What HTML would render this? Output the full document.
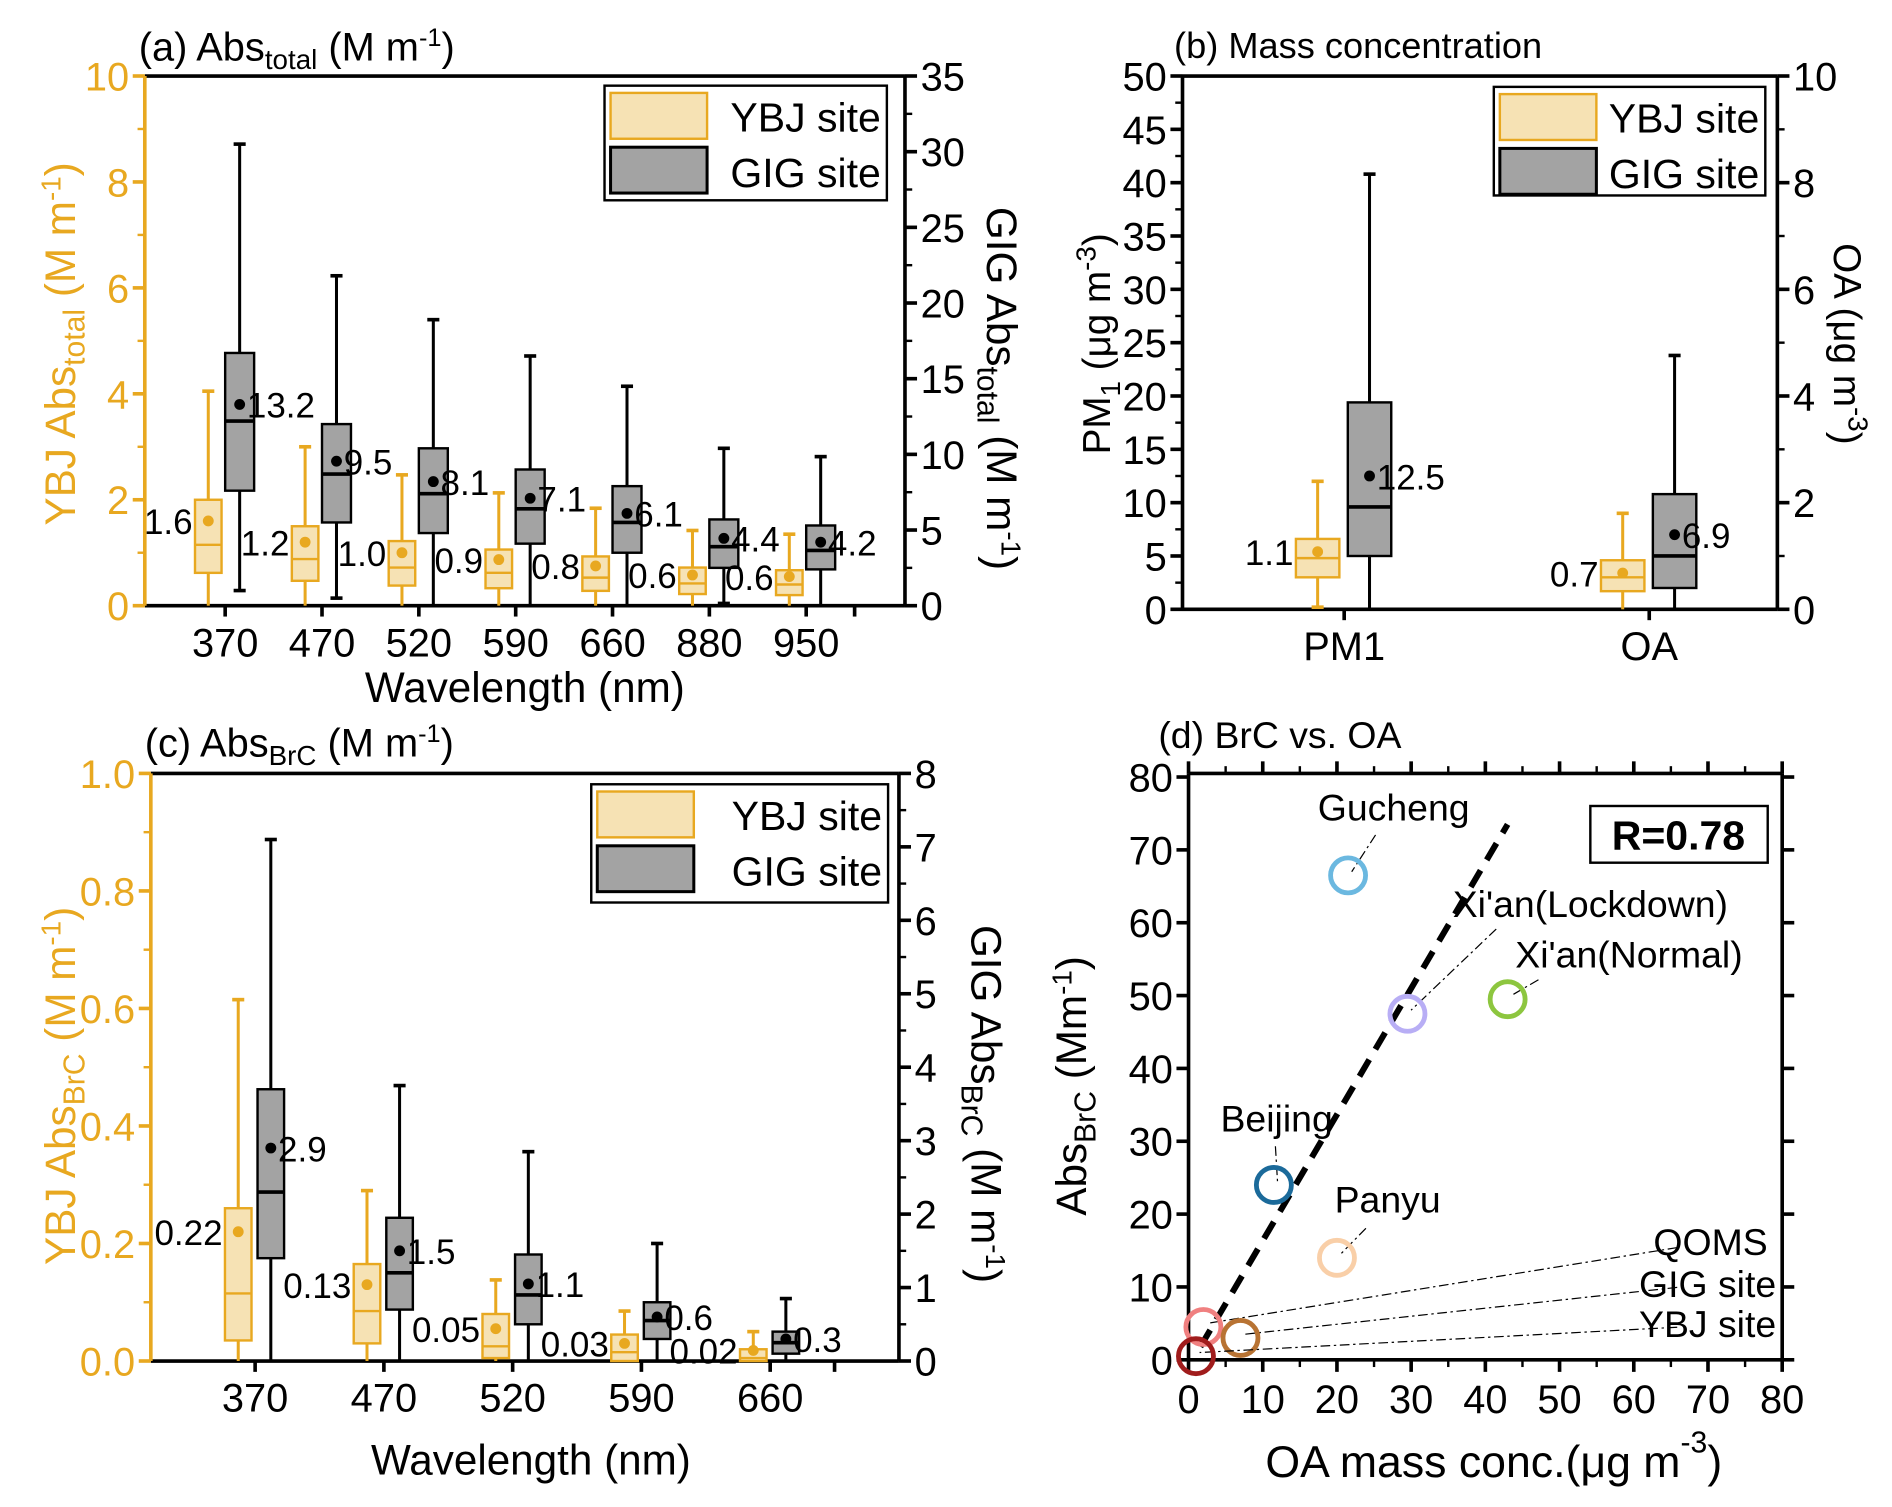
<!DOCTYPE html>
<html><head><meta charset="utf-8"><style>
body{margin:0;background:#fff}
svg{display:block;font-family:"Liberation Sans",Arial,sans-serif}
</style></head><body>
<svg id="fig" width="1892" height="1507" viewBox="0 0 1568 1249" preserveAspectRatio="none" xmlns="http://www.w3.org/2000/svg"></svg>
<script>
// ---- Panel (a) data ----
const aCats=['370','470','520','590','660','880','950'];
const aYbjTop=[4.05,3.0,2.47,2.13,1.84,1.42,1.35];
const aYbjQ3=[2.0,1.5,1.22,1.06,0.93,0.72,0.67];
const aYbjMed=[1.15,0.88,0.72,0.62,0.53,0.42,0.40];
const aYbjQ1=[0.62,0.47,0.38,0.33,0.28,0.22,0.20];
const aYbjBot=[0,0,0,0,0,0,0];
const aYbjMean=[1.6,1.2,1.0,0.87,0.75,0.58,0.55];
const aYbjLbl=['1.6','1.2','1.0','0.9','0.8','0.6','0.6'];
const aGigTop=[30.5,21.8,18.9,16.5,14.5,10.4,9.85];
const aGigQ3=[16.7,12.0,10.4,9.0,7.9,5.7,5.3];
const aGigMed=[12.2,8.7,7.4,6.4,5.5,3.9,3.65];
const aGigQ1=[7.6,5.5,4.8,4.1,3.5,2.5,2.4];
const aGigBot=[1.0,0.5,0,0,0,0.15,0];
const aGigMean=[13.3,9.55,8.2,7.1,6.1,4.45,4.2];
const aGigLbl=['13.2','9.5','8.1','7.1','6.1','4.4','4.2'];
// ---- Panel (b) data ----
const bCats=['PM1','OA'];
const bYbjTop=[12,9],bYbjQ3=[6.6,4.6],bYbjMed=[4.8,3.0],bYbjQ1=[3.0,1.7],bYbjBot=[0.2,0],bYbjMean=[5.4,3.4];
const bYbjLbl=['1.1','0.7'];
const bGigTop=[40.8,23.8],bGigQ3=[19.4,10.8],bGigMed=[9.6,5.0],bGigQ1=[5.0,2.0],bGigBot=[0,0],bGigMean=[12.5,7.0];
const bGigLbl=['12.5','6.9'];
// ---- Panel (c) data ----
const cCats=['370','470','520','590','660'];
const cYbjTop=[0.615,0.29,0.138,0.085,0.05];
const cYbjQ3=[0.26,0.165,0.08,0.045,0.02];
const cYbjMed=[0.115,0.085,0.025,0.015,0.005];
const cYbjQ1=[0.035,0.03,0.005,0,0];
const cYbjBot=[0,0,0,0,0];
const cYbjMean=[0.22,0.13,0.055,0.03,0.018];
const cYbjLbl=['0.22','0.13','0.05','0.03','0.02'];
const cGigTop=[7.1,3.75,2.85,1.6,0.85];
const cGigQ3=[3.7,1.95,1.45,0.8,0.4];
const cGigMed=[2.3,1.2,0.9,0.55,0.25];
const cGigQ1=[1.4,0.7,0.5,0.3,0.1];
const cGigBot=[0,0,0,0,0];
const cGigMean=[2.9,1.5,1.05,0.6,0.3];
const cGigLbl=['2.9','1.5','1.1','0.6','0.3'];
// ---- Panel (d) data ----
const dNames=['Gucheng',"Xi'an(Lockdown)","Xi'an(Normal)",'Beijing','Panyu','QOMS','GIG site','YBJ site'];
const dOA=[21.5,29.5,43,11.5,20,2,7,1];
const dBrC=[66.5,47.5,49.5,24,14,4.5,3,0.5];
const dColors=['#6bb8e0','#b8aef5','#8dc63f','#1b6a9a','#f9cfa8','#f08080','#b87333','#a01c1c'];
const dFit=[[1.6,1.8],[43,73.5]];

const NS='http://www.w3.org/2000/svg';
const svg=document.getElementById('fig');
const Y='#E8A820',YF='#F6E2B4',GF='#A3A3A3';
const TF=33;
function el(tag,at,parent,txt){const e=document.createElementNS(NS,tag);for(const k in at)e.setAttribute(k,at[k]);if(txt!==undefined)e.textContent=txt;(parent||svg).appendChild(e);return e;}
function lin(d0,d1,r0,r1){return v=>r0+(v-d0)*(r1-r0)/(d1-d0);}
function txt(x,y,s,size,opt,parent){opt=opt||{};const t=el('text',{x:x,y:y,'font-size':size,fill:opt.fill||'#000','text-anchor':opt.anchor||'middle','font-weight':opt.bold?'bold':'normal'},parent);if(opt.rot)t.setAttribute('transform','rotate('+opt.rot+' '+x+' '+y+')');t.innerHTML=s;return t;}

function frame(g,x0,x1,y0,y1,lc,rc){
  el('line',{x1:x0,y1:y0,x2:x1,y2:y0,stroke:'#000','stroke-width':3},g);
  el('line',{x1:x0,y1:y1,x2:x1,y2:y1,stroke:'#000','stroke-width':3},g);
  el('line',{x1:x0,y1:y0,x2:x0,y2:y1,stroke:lc,'stroke-width':3},g);
  el('line',{x1:x1,y1:y0,x2:x1,y2:y1,stroke:rc,'stroke-width':3},g);
}
function yTicks(g,x,sy,vals,labels,side,color,minor){
  vals.forEach((v,i)=>{const y=sy(v);
    const t=el('line',{x1:x,y1:y,x2:x+(side<0?-10:10),y2:y,stroke:color,'stroke-width':3},g);
    
    txt(side<0?x-13:x+13,y+12,labels[i],TF,{fill:color,anchor:side<0?'end':'start'},g);
  });
  (minor||[]).forEach(v=>{const y=sy(v);el('line',{x1:x,y1:y,x2:x+(side<0?-6:6),y2:y,stroke:color,'stroke-width':2},g);});
}
function box(g,x,w,sy,top,q3,med,q1,bot,mean,lbl,kind,lblSide){
  const stroke=kind==='ybj'?Y:'#000',fill=kind==='ybj'?YF:GF;
  const b=el('g',{},g);
  
  el('line',{x1:x,y1:sy(top),x2:x,y2:sy(q3),stroke:stroke,'stroke-width':2.5},b);
  el('line',{x1:x,y1:sy(q1),x2:x,y2:sy(bot),stroke:stroke,'stroke-width':2.5},b);
  el('line',{x1:x-5,y1:sy(top),x2:x+5,y2:sy(top),stroke:stroke,'stroke-width':3},b);
  if(bot>0)el('line',{x1:x-5,y1:sy(bot),x2:x+5,y2:sy(bot),stroke:stroke,'stroke-width':3},b);
  el('rect',{x:x-w/2,y:sy(q3),width:w,height:sy(q1)-sy(q3),fill:fill,stroke:stroke,'stroke-width':2},b);
  el('line',{x1:x-w/2,y1:sy(med),x2:x+w/2,y2:sy(med),stroke:stroke,'stroke-width':kind==='ybj'?2:3},b);
  el('circle',{cx:x,cy:sy(mean),r:4.5,fill:kind==='ybj'?Y:'#000'},b);
  if(lblSide<0)txt(x-w/2-2,sy(mean)+11,lbl,29,{anchor:'end'},b);
  else txt(x+6,sy(mean)+11,lbl,29,{anchor:'start'},b);
}
function legend(g,x,y,w,h){
  const L=el('g',{},g);
  el('rect',{x:x,y:y,width:w,height:h,fill:'#fff',stroke:'#000','stroke-width':2},L);
  el('rect',{x:x+5,y:y+6,width:80,height:38,fill:YF,stroke:Y,'stroke-width':2},L);
  el('rect',{x:x+5,y:y+51,width:80,height:38,fill:GF,stroke:'#000','stroke-width':2.5},L);
  txt(x+w-5,y+38,'YBJ site',34,{anchor:'end'},L);
  txt(x+w-5,y+84,'GIG site',34,{anchor:'end'},L);
}
function xCatTicks(g,sx,cats,y){cats.forEach((c,i)=>{el('line',{x1:sx(i),y1:y,x2:sx(i),y2:y+9,stroke:'#000','stroke-width':3},g);txt(sx(i),y+42,c,TF,{},g);});}

// ===== Panel (a) =====
(function(){
  const g=el('g',{});
  const x0=120,x1=750,y0=63,y1=502;
  const sx=lin(-0.83,7.02,x0,x1),syL=lin(0,10,y1,y0),syR=lin(0,35,y1,y0);
  frame(g,x0,x1,y0,y1,Y,'#000');
  yTicks(g,x0,syL,[0,2,4,6,8,10],['0','2','4','6','8','10'],-1,Y,[1,3,5,7,9]);
  yTicks(g,x1,syR,[0,5,10,15,20,25,30,35],['0','5','10','15','20','25','30','35'],1,'#000',[2.5,7.5,12.5,17.5,22.5,27.5,32.5]);
  xCatTicks(g,sx,aCats,y1);
  el('line',{x1:sx(6.5),y1:y1,x2:sx(6.5),y2:y1+9,stroke:'#000','stroke-width':3},g);
  aCats.forEach((c,i)=>{
    box(g,sx(i)-14,22,syL,aYbjTop[i],aYbjQ3[i],aYbjMed[i],aYbjQ1[i],aYbjBot[i],aYbjMean[i],aYbjLbl[i],'ybj',-1);
    box(g,sx(i)+12,24,syR,aGigTop[i],aGigQ3[i],aGigMed[i],aGigQ1[i],aGigBot[i],aGigMean[i],aGigLbl[i],'gig',1);
  });
  legend(g,501,71,234,95);
  txt(115,50,'(a) Abs<tspan font-size="23" dy="7">total</tspan><tspan dy="-7"> (M m</tspan><tspan font-size="21" dy="-12">-1</tspan><tspan dy="12">)</tspan>',33,{anchor:'start'},g);
  txt(435,582,'Wavelength (nm)',35,{},g);
  txt(62,285,'YBJ Abs<tspan font-size="25" dy="8">total</tspan><tspan dy="-8"> (M m</tspan><tspan font-size="23" dy="-12">-1</tspan><tspan dy="12">)</tspan>',35,{fill:Y,rot:-90},g);
  txt(818,322,'GIG Abs<tspan font-size="25" dy="8">total</tspan><tspan dy="-8"> (M m</tspan><tspan font-size="23" dy="-12">-1</tspan><tspan dy="12">)</tspan>',35,{rot:90},g);
})();

// ===== Panel (b) =====
(function(){
  const g=el('g',{});
  const x0=980,x1=1473,y0=63,y1=505;
  const sx=lin(-0.53,1.42,x0,x1),syL=lin(0,50,y1,y0),syR=lin(0,10,y1,y0);
  frame(g,x0,x1,y0,y1,'#000','#000');
  const lv=[],ll=[];for(let v=0;v<=50;v+=5){lv.push(v);ll.push(String(v));}
  yTicks(g,x0,syL,lv,ll,-1,'#000',[2.5,7.5,12.5,17.5,22.5,27.5,32.5,37.5,42.5,47.5]);
  yTicks(g,x1,syR,[0,2,4,6,8,10],['0','2','4','6','8','10'],1,'#000',[1,3,5,7,9]);
  xCatTicks(g,sx,bCats,y1);
  bCats.forEach((c,i)=>{
    box(g,sx(i)-22,36,syL,bYbjTop[i],bYbjQ3[i],bYbjMed[i],bYbjQ1[i],bYbjBot[i],bYbjMean[i],bYbjLbl[i],'ybj',-1);
    box(g,sx(i)+21,36,syL,bGigTop[i],bGigQ3[i],bGigMed[i],bGigQ1[i],bGigBot[i],bGigMean[i],bGigLbl[i],'gig',1);
  });
  legend(g,1238,72,225,90);
  txt(973,48,'(b) Mass concentration',30,{anchor:'start'},g);
  txt(920,285,'PM<tspan font-size="23" dy="8">1</tspan><tspan dy="-8"> (μg m</tspan><tspan font-size="23" dy="-12">-3</tspan><tspan dy="12">)</tspan>',32,{rot:-90},g);
  txt(1520,285,'OA (μg m<tspan font-size="23" dy="-12">-3</tspan><tspan dy="12">)</tspan>',32,{rot:90},g);
})();

// ===== Panel (c) =====
(function(){
  const g=el('g',{});
  const x0=125,x1=745,y0=641,y1=1128;
  const sx=lin(-0.81,5.0,x0,x1),syL=lin(0,1,y1,y0),syR=lin(0,8,y1,y0);
  frame(g,x0,x1,y0,y1,Y,'#000');
  yTicks(g,x0,syL,[0,0.2,0.4,0.6,0.8,1.0],['0.0','0.2','0.4','0.6','0.8','1.0'],-1,Y,[0.1,0.3,0.5,0.7,0.9]);
  yTicks(g,x1,syR,[0,1,2,3,4,5,6,7,8],['0','1','2','3','4','5','6','7','8'],1,'#000',[0.5,1.5,2.5,3.5,4.5,5.5,6.5,7.5]);
  xCatTicks(g,sx,cCats,y1);
  el('line',{x1:sx(4.5),y1:y1,x2:sx(4.5),y2:y1+9,stroke:'#000','stroke-width':3},g);
  cCats.forEach((c,i)=>{
    box(g,sx(i)-14,22,syL,cYbjTop[i],cYbjQ3[i],cYbjMed[i],cYbjQ1[i],cYbjBot[i],cYbjMean[i],cYbjLbl[i],'ybj',-1);
    box(g,sx(i)+13,22,syR,cGigTop[i],cGigQ3[i],cGigMed[i],cGigQ1[i],cGigBot[i],cGigMean[i],cGigLbl[i],'gig',1);
  });
  legend(g,490,650,246,98);
  txt(120,627,'(c) Abs<tspan font-size="23" dy="7">BrC</tspan><tspan dy="-7"> (M m</tspan><tspan font-size="21" dy="-12">-1</tspan><tspan dy="12">)</tspan>',33,{anchor:'start'},g);
  txt(440,1222,'Wavelength (nm)',35,{},g);
  txt(62,900,'YBJ Abs<tspan font-size="25" dy="8">BrC</tspan><tspan dy="-8"> (M m</tspan><tspan font-size="23" dy="-12">-1</tspan><tspan dy="12">)</tspan>',35,{fill:Y,rot:-90},g);
  txt(805,915,'GIG Abs<tspan font-size="25" dy="8">BrC</tspan><tspan dy="-8"> (M m</tspan><tspan font-size="23" dy="-12">-1</tspan><tspan dy="12">)</tspan>',35,{rot:90},g);
})();

// ===== Panel (d) =====
(function(){
  const g=el('g',{});
  const x0=985,x1=1477,y0=641,y1=1127;
  const sx=lin(0,80,x0,x1),sy=lin(0,80,y1,y0+3);
  frame(g,x0,x1,y0,y1,'#000','#000');
  for(let v=0;v<=80;v+=10){
    const x=sx(v),y=sy(v);
    el('line',{x1:x,y1:y1,x2:x,y2:y1+10,stroke:'#000','stroke-width':3},g);
    el('line',{x1:x,y1:y0,x2:x,y2:y0-10,stroke:'#000','stroke-width':3},g);
    if(v<80){el('line',{x1:sx(v+5),y1:y1,x2:sx(v+5),y2:y1+6,stroke:'#000','stroke-width':2},g);el('line',{x1:sx(v+5),y1:y0,x2:sx(v+5),y2:y0-6,stroke:'#000','stroke-width':2},g);}
    txt(x,y1+44,String(v),TF,{},g);
    el('line',{x1:x0,y1:y,x2:x0-10,y2:y,stroke:'#000','stroke-width':3},g);
    el('line',{x1:x1,y1:y,x2:x1+10,y2:y,stroke:'#000','stroke-width':3},g);
    txt(x0-13,y+12,String(v),TF,{anchor:'end'},g);
  }
  const fit=el('line',{x1:sx(dFit[0][0]),y1:sy(dFit[0][1]),x2:sx(dFit[1][0]),y2:sy(dFit[1][1]),stroke:'#000','stroke-width':5,'stroke-dasharray':'16,10'},g);
  
  const lab=[[1155,680,'middle'],[1318,760,'middle'],[1350,802,'middle'],[1058,938,'middle'],[1150,1005,'middle'],[1465,1040,'end'],[1472,1075,'end'],[1472,1108,'end']];
  const leadFrom=[[1140,692],[1240,770],[1275,812],[1057,950],[1132,1018],[1390,1034],[1390,1067],[1390,1100]];
  dNames.forEach((n,i)=>{
    const cx=sx(dOA[i]),cy=sy(dBrC[i]);
    const ln=el('line',{x1:leadFrom[i][0],y1:leadFrom[i][1],x2:cx+3,y2:cy-3,stroke:'#000','stroke-width':1,'stroke-dasharray':'8,3,2,3'},g);
    
    const c=el('circle',{cx:cx,cy:cy,r:14.5,fill:'none',stroke:dColors[i],'stroke-width':4},g);
    
    
    txt(lab[i][0],lab[i][1],n,31,{anchor:lab[i][2]},g);
  });
  const rb=el('g',{},g);
  el('rect',{x:1318,y:668,width:147,height:47,fill:'#fff',stroke:'#000','stroke-width':2},rb);
  txt(1391,704,'R=0.78',34,{bold:true},rb);
  txt(960,620,'(d) BrC vs. OA',31,{anchor:'start'},g);
  txt(1238,1224,'OA mass conc.(μg m<tspan font-size="25" dy="-20">-3</tspan><tspan dy="20">)</tspan>',37,{},g);
  txt(900,900,'Abs<tspan font-size="25" dy="8">BrC</tspan><tspan dy="-8"> (Mm</tspan><tspan font-size="23" dy="-12">-1</tspan><tspan dy="12">)</tspan>',35,{rot:-90},g);
})();
</script>
</body></html>
